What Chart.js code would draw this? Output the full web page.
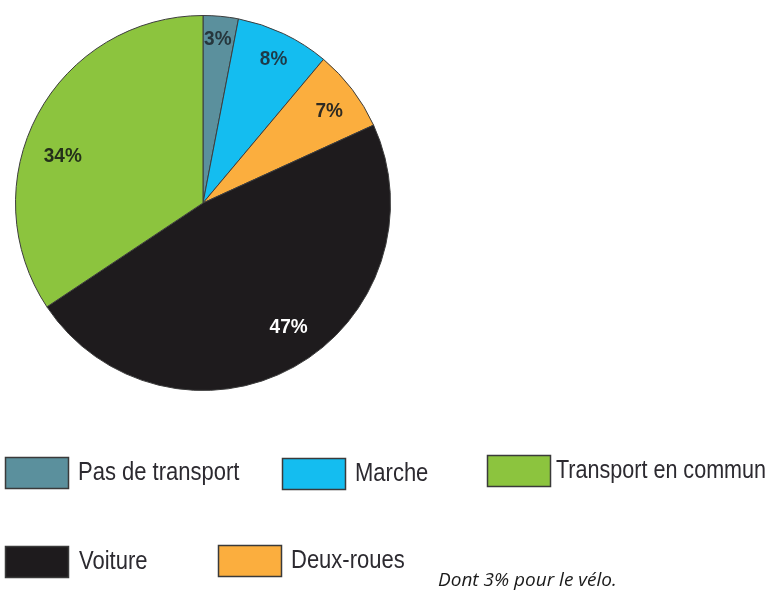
<!DOCTYPE html>
<html><head><meta charset="utf-8">
<script src="https://cdn.jsdelivr.net/npm/chart.js@4"></script>
<style>html,body{margin:0;padding:0;background:#fff;}#wrap{width:768px;height:592px;}</style>
</head><body><div id="wrap"><canvas id="c" width="768" height="592"></canvas></div>
<script>
const categories = ['Pas de transport', 'Marche', 'Deux-roues', 'Voiture', 'Transport en commun'];
const shares = [3, 8, 7, 47, 34];
const valueLabels = ['3%', '8%', '7%', '47%', '34%'];
const legendOrder = ['Pas de transport', 'Marche', 'Transport en commun', 'Voiture', 'Deux-roues'];
const footnote = 'Dont 3% pour le vélo.';

const sliceColors = ['#5b909d', '#14bdf0', '#fbae3e', '#1e1b1d', '#8cc43e'];
const labelColors = ['#26363c', '#1e3a48', '#2e2a22', '#ffffff', '#24301a'];
// [radius fraction, angle shift in degrees] for each slice label
const labelPlacement = [[0.88, -0.3], [0.86, 0.5], [0.835, 1], [0.80, -5.7], [0.79, -9.4]];
// legend item layout: [boxX, boxY, textGap]
const legendLayout = [[5, 457, 9], [282, 458, 9], [487, 455, 5], [5, 546, 10], [218, 545, 9]];

const sliceLabels = {
  id: 'sliceLabels',
  afterDatasetsDraw(chart) {
    const ctx = chart.ctx;
    const meta = chart.getDatasetMeta(0);
    ctx.save();
    ctx.textAlign = 'center';
    ctx.textBaseline = 'middle';
    meta.data.forEach((arc, i) => {
      const p = arc.getProps(['x', 'y', 'startAngle', 'endAngle', 'outerRadius'], true);
      const mid = (p.startAngle + p.endAngle) / 2 + labelPlacement[i][1] * Math.PI / 180;
      const r = p.outerRadius * labelPlacement[i][0];
      const x = p.x + Math.cos(mid) * r;
      const y = p.y + Math.sin(mid) * r;
      ctx.fillStyle = labelColors[i];
      ctx.font = 'bold 20px "Liberation Sans", Arial, sans-serif';
      ctx.save();
      ctx.translate(x, y);
      ctx.scale(0.95, 1);
      ctx.fillText(valueLabels[i], 0, 1);
      ctx.restore();
    });
    ctx.restore();
  }
};

const customLegend = {
  id: 'customLegend',
  afterDraw(chart) {
    const ctx = chart.ctx;
    ctx.save();
    legendOrder.forEach((name, k) => {
      const i = chart.data.labels.indexOf(name);
      const [bx, by, gap] = legendLayout[k];
      ctx.fillStyle = sliceColors[i];
      ctx.fillRect(bx, by, 64, 32);
      ctx.strokeStyle = '#3a3a3a';
      ctx.lineWidth = 1.5;
      ctx.strokeRect(bx + 0.5, by + 0.5, 63, 31);
      ctx.fillStyle = '#2c2a30';
      ctx.font = '25px "Liberation Sans", Arial, sans-serif';
      ctx.textAlign = 'left';
      ctx.textBaseline = 'middle';
      const tx = bx + 64 + gap;
      const sx = 0.88;
      ctx.save();
      ctx.translate(tx, by + 16);
      ctx.scale(sx, 1);
      ctx.fillText(name, 0, 0, (766 - tx) / sx);
      ctx.restore();
    });
    ctx.fillStyle = '#1a1a1a';
    ctx.font = 'italic 19px "Open Sans", sans-serif';
    ctx.textAlign = 'left';
    ctx.textBaseline = 'middle';
    ctx.fillText(footnote, 438, 581, 184);
    ctx.restore();
  }
};

new Chart(document.getElementById('c'), {
  type: 'pie',
  data: {
    labels: categories,
    datasets: [{
      data: shares,
      backgroundColor: sliceColors,
      borderColor: '#3d3d3d',
      borderWidth: 1
    }]
  },
  options: {
    responsive: false,
    animation: false,
    rotation: 0,
    layout: { padding: { left: 15, top: 15, right: 377, bottom: 201 } },
    plugins: { legend: { display: false }, tooltip: { enabled: false } }
  },
  plugins: [sliceLabels, customLegend]
});
</script>
</body></html>
